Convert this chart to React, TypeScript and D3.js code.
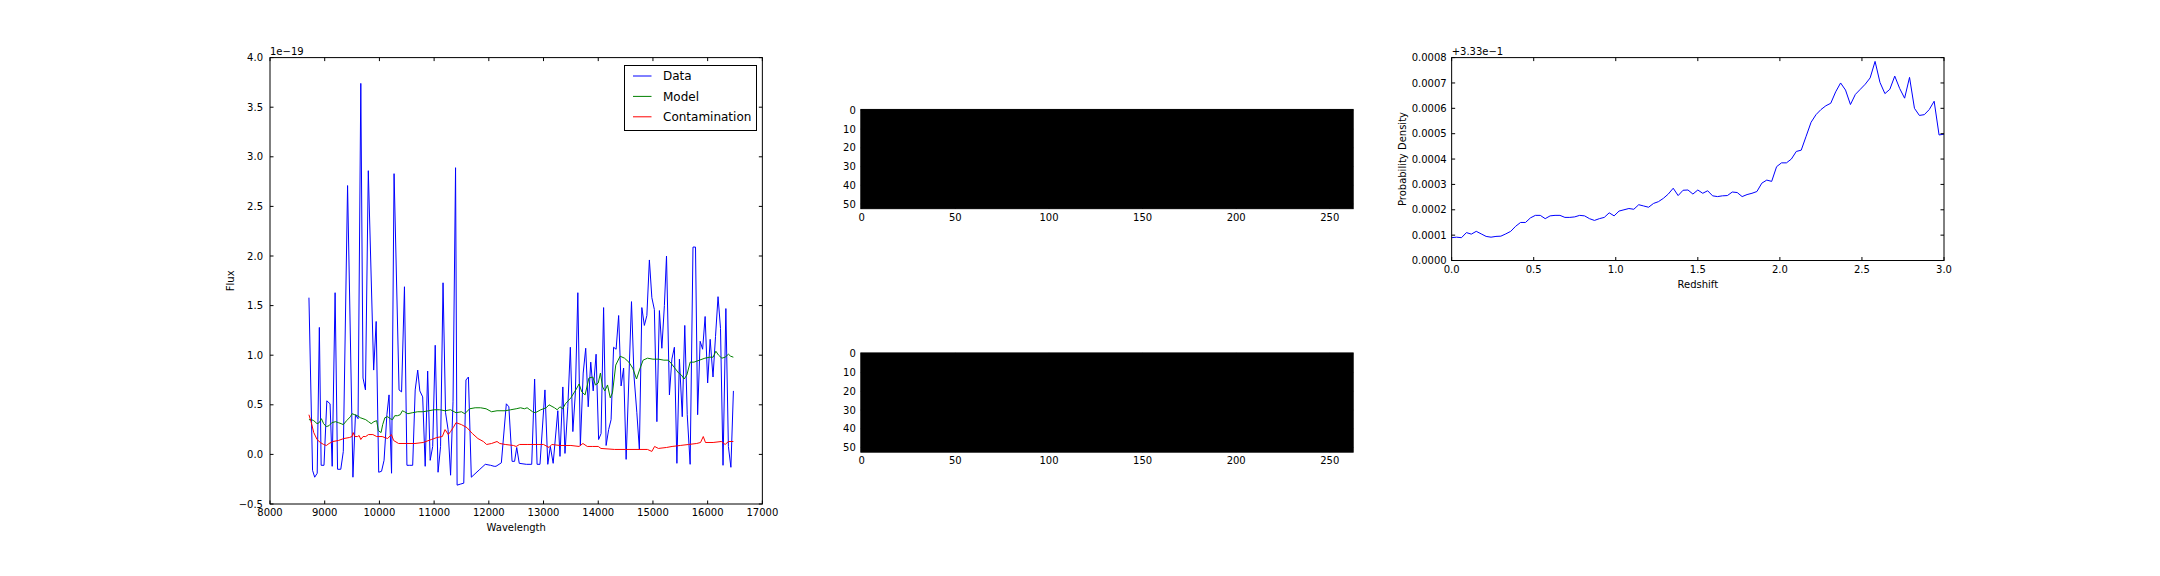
import React from "react";
import * as d3 from "d3";

// spectrum (flux in units of 1e-19)
const dataWave = [
  8712, 8778, 8817, 8863, 8902, 8935, 8987, 9039, 9098, 9137, 9190, 9235, 9294, 9340, 9418, 9516, 9562, 9610,
  9660, 9700, 9745, 9797, 9895, 9941, 9987, 10039, 10085, 10137, 10176, 10222, 10268, 10359, 10405, 10458,
  10503, 10555, 10608, 10654, 10700, 10739, 10791, 10837, 10882, 10928, 10974, 11020, 11072, 11118, 11163,
  11209, 11255, 11301, 11346, 11392, 11420, 11477, 11542, 11582, 11627, 11680, 11837, 11935, 12033, 12098,
  12131, 12229, 12320, 12366, 12425, 12471, 12510, 12556, 12686, 12784, 12837, 12882, 12935, 13026, 13078,
  13124, 13176, 13261, 13301, 13353, 13392, 13444, 13490, 13536, 13582, 13627, 13673, 13725, 13771, 13817,
  13863, 13908, 13961, 14007, 14052, 14098, 14144, 14190, 14235, 14281, 14327, 14373, 14418, 14464, 14510,
  14608, 14654, 14706, 14752, 14797, 14843, 14889, 14935, 14980, 15026, 15072, 15118, 15163, 15209, 15248,
  15301, 15346, 15392, 15438, 15484, 15536, 15582, 15627, 15680, 15732, 15778, 15817, 15863, 15908, 15954,
  16000, 16046, 16098, 16144, 16190, 16235, 16281, 16333, 16379, 16425, 16471,
];
const dataFlux = [
  1.58, -0.16, -0.23, -0.19, 1.28, -0.11, -0.11, 0.54, 0.51, -0.12, 1.63, -0.15, -0.15, 0.03, 2.71, -0.23, 0.4, 0.36,
  3.74, 0.77, 0.65, 2.86, 0.85, 1.34, -0.18, -0.17, -0.06, 0.4, 0.6, -0.19, 2.83, 0.65, 0.63, 1.69,
  -0.11, -0.11, -0.11, 0.65, 0.85, 0.64, 0.58, -0.12, 0.84, -0.06, 0.08, 1.1, -0.18, 0.08, 1.73,
  0.42, 0.25, -0.21, 0.53, 2.89, -0.31, -0.3, -0.29, 0.75, 0.78, -0.23, -0.15, -0.1, -0.11, -0.12,
  -0.12, -0.085, 0.51, 0.48, -0.07, -0.07, 0.07, -0.09, -0.1, -0.1, 0.76, -0.1, -0.1, 0.65, -0.1,
  0.08, -0.09, 0.44, -0.02, 0.68, 0.01, 0.48, 1.08, 0.23, 0.62, 1.63, 0.09, 0.82, 1.07, 0.48,
  0.93, 0.64, 1.01, 0.15, 0.21, 1.48, 0.09, 0.25, 0.35, 1.08, 1.06, 1.4, 0.69, 0.87, -0.05,
  1.54, 0.79, 0.42, 0.05, 1.48, 1.3, 1.4, 1.96, 1.58, 1.46, 0.33, 1.45, 1.07, 1.5, 2.0,
  0.6, 0.96, 1.08, -0.09, 0.96, 0.38, 1.3, 0.4, -0.1, 2.09, 2.09, 0.4, 1.14, 1.06, 1.39,
  0.72, 1.16, 0.78, 1.19, 1.59, 1.27, -0.11, 1.47, 0.08, -0.13, 0.64,
];

const modelWave = [
  8712, 8760, 8800, 8860, 8900, 8940, 8980, 9030, 9080, 9130, 9200, 9250, 9300, 9340, 9400, 9470, 9500, 9550,
  9600, 9650, 9700, 9750, 9800, 9850, 9900, 9950, 9980, 10030, 10060, 10100, 10150, 10200, 10240, 10280, 10330,
  10380, 10420, 10460, 10520, 10600, 10700, 10800, 10900, 11000, 11100, 11200, 11300, 11400, 11500, 11560,
  11650, 11750, 11850, 11950, 12050, 12150, 12300, 12400, 12500, 12580, 12650, 12700, 12750, 12800, 12850,
  12950, 13050, 13100, 13200, 13250, 13300, 13350, 13400, 13500, 13600, 13650, 13700, 13760, 13830, 13900,
  13950, 14000, 14040, 14080, 14120, 14170, 14220, 14260, 14320, 14400, 14480, 14560, 14630, 14700, 14760,
  14820, 14900, 15000, 15100, 15200, 15280, 15330, 15400, 15470, 15520, 15570, 15620, 15680, 15750, 15850,
  15950, 16040, 16100, 16150, 16200, 16260, 16320, 16380, 16420, 16470,
];
const modelFlux = [
  0.35, 0.35, 0.34, 0.31, 0.32, 0.36, 0.31, 0.28, 0.29, 0.32, 0.33, 0.32, 0.31, 0.3, 0.34, 0.38, 0.41, 0.4,
  0.39, 0.37, 0.36, 0.35, 0.33, 0.31, 0.33, 0.34, 0.24, 0.22, 0.3, 0.37, 0.38, 0.36, 0.35, 0.39, 0.39,
  0.4, 0.44, 0.43, 0.41, 0.42, 0.43, 0.43, 0.44, 0.45, 0.45, 0.44, 0.45, 0.42, 0.43, 0.41,
  0.46, 0.47, 0.47, 0.46, 0.43, 0.44, 0.44, 0.45, 0.46, 0.47, 0.46, 0.47, 0.45, 0.43, 0.42,
  0.45, 0.47, 0.5, 0.47, 0.45, 0.48, 0.46, 0.51, 0.57, 0.66, 0.71, 0.63, 0.6, 0.77, 0.78,
  0.7, 0.72, 0.82, 0.68, 0.64, 0.7, 0.57, 0.62, 0.9, 0.99, 0.97, 0.93, 0.87, 0.76, 0.86,
  0.95, 0.97, 0.96, 0.96, 0.95, 0.95, 0.92, 0.87, 0.82, 0.8, 0.76, 0.8, 0.93, 0.93, 0.95,
  0.97, 0.98, 0.98, 1.04, 1.0, 0.97, 0.98, 1.01, 0.99, 0.98,
];

const contamWave = [
  8712, 8750, 8800, 8860, 8920, 8980, 9030, 9080, 9150, 9250, 9350, 9450, 9500, 9520, 9550, 9600, 9630, 9660,
  9700, 9750, 9800, 9880, 9950, 10050, 10150, 10220, 10260, 10350, 10500, 10650, 10800, 10950, 11050, 11150,
  11200, 11260, 11300, 11350, 11400, 11500, 11600, 11700, 11800, 11900, 11960, 12050, 12150, 12200, 12300,
  12450, 12500, 12560, 12700, 12900, 13000, 13100, 13150, 13300, 13500, 13650, 13720, 13800, 13900, 14000,
  14050, 14300, 14500, 14800, 14900, 14980, 15030, 15100, 15250, 15350, 15500, 15650, 15800, 15870, 15920,
  15960, 16100, 16250, 16320, 16380, 16470,
];
const contamFlux = [
  0.4, 0.33, 0.22, 0.15, 0.12, 0.1, 0.09, 0.11, 0.13, 0.14, 0.16, 0.17, 0.18, 0.22, 0.18, 0.18, 0.19, 0.15,
  0.18, 0.18, 0.2, 0.2, 0.18, 0.18, 0.16, 0.2, 0.14, 0.11, 0.11, 0.11, 0.12, 0.15, 0.17, 0.18,
  0.25, 0.2, 0.23, 0.27, 0.32, 0.3, 0.27, 0.21, 0.16, 0.13, 0.1, 0.11, 0.13, 0.11, 0.1,
  0.09, 0.08, 0.1, 0.1, 0.1, 0.1, 0.07, 0.1, 0.09, 0.09, 0.08, 0.11, 0.08, 0.08, 0.08,
  0.06, 0.05, 0.05, 0.05, 0.05, 0.03, 0.08, 0.06, 0.07, 0.08, 0.09, 0.1, 0.11, 0.12, 0.18,
  0.12, 0.12, 0.13, 0.1, 0.13, 0.13,
];

// redshift PDF (density - 0.333, in units of 1e-4)
const redshift = [
  0, 0.03, 0.06, 0.09, 0.12, 0.15, 0.18, 0.21, 0.24, 0.27, 0.3, 0.33, 0.36, 0.39, 0.42, 0.45, 0.48, 0.51, 0.54,
  0.57, 0.6, 0.63, 0.66, 0.69, 0.72, 0.75, 0.78, 0.81, 0.84, 0.87, 0.9, 0.93, 0.96, 0.99, 1.02, 1.05, 1.08,
  1.11, 1.14, 1.17, 1.2, 1.23, 1.26, 1.29, 1.32, 1.35, 1.38, 1.41, 1.44, 1.47, 1.5, 1.53, 1.56, 1.59, 1.62,
  1.65, 1.68, 1.71, 1.74, 1.77, 1.8, 1.83, 1.86, 1.89, 1.92, 1.95, 1.98, 2.01, 2.04, 2.07, 2.1, 2.13, 2.16,
  2.19, 2.22, 2.25, 2.28, 2.31, 2.34, 2.37, 2.4, 2.43, 2.46, 2.49, 2.52, 2.55, 2.58, 2.61, 2.64, 2.67, 2.7,
  2.73, 2.76, 2.79, 2.82, 2.85, 2.88, 2.91, 2.94, 2.97, 3.0,
];
const pdz = [
  0.9, 0.92, 0.9, 1.1, 1.04, 1.15, 1.05, 0.95, 0.92, 0.95, 0.96, 1.05, 1.15, 1.35, 1.5, 1.5, 1.68, 1.78, 1.78,
  1.65, 1.76, 1.78, 1.78, 1.7, 1.7, 1.72, 1.78, 1.76, 1.65, 1.58, 1.65, 1.7, 1.88, 1.76, 1.95, 2.0, 2.05,
  2.02, 2.2, 2.15, 2.1, 2.25, 2.32, 2.45, 2.62, 2.85, 2.56, 2.77, 2.78, 2.62, 2.78, 2.65, 2.75, 2.55, 2.52,
  2.55, 2.56, 2.7, 2.68, 2.52, 2.6, 2.65, 2.72, 3.05, 3.17, 3.12, 3.7, 3.85, 3.85, 4.0, 4.3, 4.35, 4.9,
  5.45, 5.75, 5.95, 6.1, 6.2, 6.65, 7.0, 6.72, 6.15, 6.55, 6.75, 6.95, 7.2, 7.85, 7.02, 6.58, 6.75, 7.27,
  6.78, 6.4, 7.22, 6.0, 5.72, 5.75, 5.95, 6.28, 4.95, 4.98,
];

// 2D images (all zero -> black)
const imageRows = 53;
const imageCols = 263;
const imageValue = 0;

const fluxTicks = [-0.5, 0, 0.5, 1, 1.5, 2, 2.5, 3, 3.5, 4];
const waveTicks = [8000, 9000, 10000, 11000, 12000, 13000, 14000, 15000, 16000, 17000];
const zTicks = [0, 0.5, 1, 1.5, 2, 2.5, 3];
const pdzTicks = [0, 1, 2, 3, 4, 5, 6, 7, 8];
const imgXTicks = [0, 50, 100, 150, 200, 250];
const imgYTicks = [0, 10, 20, 30, 40, 50];
const legendItems = [
  { name: "Data", color: "#0000ff" },
  { name: "Model", color: "#008000" },
  { name: "Contamination", color: "#ff0000" },
];

const FONT = "DejaVu Sans, sans-serif";
const minus = (s: string) => s.replace("-", "\u2212");

const TL = 3.5;

function Frame({ x0, x1, y0, y1, xs, ys, xt, yt, fx, fy, xPad = 12, yPad = 6 }: any) {
  return (
    <g>
      {xt.map((t: number) => (
        <g key={"x" + t}>
          <line x1={xs(t)} x2={xs(t)} y1={y1} y2={y1 - TL} stroke="#000" />
          <line x1={xs(t)} x2={xs(t)} y1={y0} y2={y0 + TL} stroke="#000" />
          <text x={xs(t)} y={y1 + xPad} textAnchor="middle" fontSize={10} fontFamily={FONT}>
            {fx(t)}
          </text>
        </g>
      ))}
      {yt.map((t: number) => (
        <g key={"y" + t}>
          <line x1={x0} x2={x0 + TL} y1={ys(t)} y2={ys(t)} stroke="#000" />
          <line x1={x1} x2={x1 - TL} y1={ys(t)} y2={ys(t)} stroke="#000" />
          <text x={x0 - yPad} y={ys(t)} dy="0.36em" textAnchor="end" fontSize={10} fontFamily={FONT}>
            {fy(t)}
          </text>
        </g>
      ))}
      <rect x={x0} y={y0} width={x1 - x0} height={y1 - y0} fill="none" stroke="#000" strokeWidth={1} />
    </g>
  );
}

function ImagePanel({ x0, x1, cy }: { x0: number; x1: number; cy: number }) {
  const xs = d3.scaleLinear().domain([-0.5, imageCols - 0.5]).range([x0, x1]);
  const unit = (x1 - x0) / imageCols;
  const h = unit * imageRows;
  const ys = d3.scaleLinear().domain([-0.5, imageRows - 0.5]).range([cy - h / 2, cy + h / 2]);
  const grey = d3.scaleLinear<string>().domain([0, 1]).range(["#000", "#fff"]);
  return (
    <g>
      <rect
        x={xs(-0.5)}
        y={ys(-0.5)}
        width={xs(imageCols - 0.5) - xs(-0.5)}
        height={ys(imageRows - 0.5) - ys(-0.5)}
        fill={grey(imageValue)}
      />
      <Frame
        x0={x0}
        x1={x1}
        y0={ys(-0.5)}
        y1={ys(imageRows - 0.5)}
        xs={xs}
        ys={ys}
        xt={imgXTicks}
        yt={imgYTicks}
        fx={(t: number) => String(t)}
        fy={(t: number) => String(t)}
        yPad={5}
      />
    </g>
  );
}

export default function App() {
  const W = 2160;
  const H = 576;
  const top = 57.6;
  const bottom = 504;
  const rowH = (bottom - top) / 2.2;
  const colW = (1944 - 270) / 3.4;
  const c1 = [270, 270 + colW];
  const c2 = [270 + 1.2 * colW, 270 + 2.2 * colW];
  const c3 = [270 + 2.4 * colW, 1944];
  const r1 = [top, top + rowH];
  const r2 = [bottom - rowH, bottom];

  const xw = d3.scaleLinear().domain([8000, 17000]).range(c1);
  const yf = d3.scaleLinear().domain([-0.5, 4]).range([bottom, top]);
  const mk = (xa: number[], ya: number[]) =>
    d3
      .line<number>()
      .x((_, i) => xw(xa[i]))
      .y((d) => yf(d))(ya) || "";

  const xz = d3.scaleLinear().domain([0, 3]).range(c3);
  const yp = d3.scaleLinear().domain([0, 8]).range([r1[1], r1[0]]);
  const pdzPath =
    d3
      .line<number>()
      .x((_, i) => xz(redshift[i]))
      .y((d) => yp(d))(pdz) || "";

  const lg = { x: 624.5, y: 65.5, w: 132, h: 65 };

  return (
    <svg
      width={W}
      height={H}
      style={{ position: "absolute", left: 0, top: 0, background: "#fff" }}
      fontFamily={FONT}
    >
      <rect width={W} height={H} fill="#fff" />

      {/* spectrum */}
      <g>
        <clipPath id="c1">
          <rect x={c1[0]} y={top} width={c1[1] - c1[0]} height={bottom - top} />
        </clipPath>
        <g clipPath="url(#c1)" fill="none" strokeWidth={1}>
          <path d={mk(dataWave, dataFlux)} stroke="#0000ff" />
          <path d={mk(modelWave, modelFlux)} stroke="#008000" />
          <path d={mk(contamWave, contamFlux)} stroke="#ff0000" />
        </g>
        <Frame
          x0={c1[0]}
          x1={c1[1]}
          y0={top}
          y1={bottom}
          xs={xw}
          ys={yf}
          xt={waveTicks}
          yt={fluxTicks}
          fx={(t: number) => String(t)}
          fy={(t: number) => minus(t.toFixed(1))}
          yPad={7}
        />
        <text x={c1[0]} y={top - 3} fontSize={10}>
          1e{"\u2212"}19
        </text>
        <text x={(c1[0] + c1[1]) / 2} y={bottom + 27} textAnchor="middle" fontSize={10}>
          Wavelength
        </text>
        <text
          transform={`translate(${c1[0] - 36},${(top + bottom) / 2}) rotate(-90)`}
          textAnchor="middle"
          fontSize={10}
        >
          Flux
        </text>
        <rect x={lg.x} y={lg.y} width={lg.w} height={lg.h} fill="#fff" stroke="#000" />
        {legendItems.map((d, i) => (
          <g key={d.name}>
            <line x1={633} x2={651.5} y1={76 + i * 20.4} y2={76 + i * 20.4} stroke={d.color} />
            <text x={663} y={76 + i * 20.4} dy="0.36em" fontSize={12}>
              {d.name}
            </text>
          </g>
        ))}
      </g>

      {/* images */}
      <ImagePanel x0={c2[0]} x1={c2[1]} cy={(r1[0] + r1[1]) / 2} />
      <ImagePanel x0={c2[0]} x1={c2[1]} cy={(r2[0] + r2[1]) / 2} />

      {/* redshift PDF */}
      <g>
        <path d={pdzPath} fill="none" stroke="#0000ff" strokeWidth={1} />
        <Frame
          x0={c3[0]}
          x1={c3[1]}
          y0={r1[0]}
          y1={r1[1]}
          xs={xz}
          ys={yp}
          xt={zTicks}
          yt={pdzTicks}
          fx={(t: number) => t.toFixed(1)}
          fy={(t: number) => (t * 1e-4).toFixed(4)}
          yPad={5}
        />
        <text x={c3[0]} y={top - 3} fontSize={10}>
          +3.33e{"\u2212"}1
        </text>
        <text x={(c3[0] + c3[1]) / 2} y={r1[1] + 27} textAnchor="middle" fontSize={10}>
          Redshift
        </text>
        <text
          transform={`translate(${c3[0] - 46},${(r1[0] + r1[1]) / 2}) rotate(-90)`}
          textAnchor="middle"
          fontSize={10}
        >
          Probability Density
        </text>
      </g>
    </svg>
  );
}
